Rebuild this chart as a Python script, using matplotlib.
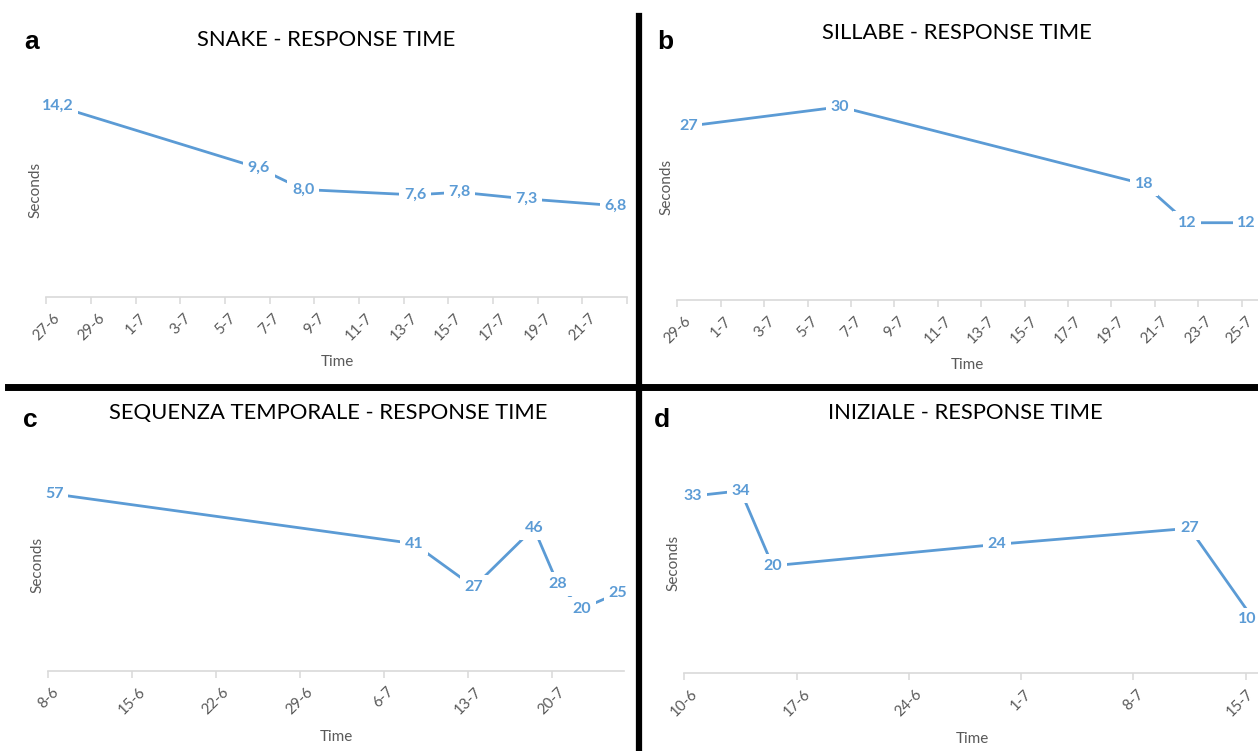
import matplotlib
matplotlib.use("Agg")
import matplotlib.pyplot as plt
import matplotlib.dates as mdates
from matplotlib.lines import Line2D
from matplotlib.transforms import offset_copy
from datetime import datetime

YEAR = 2017

# ---- data -------------------------------------------------------------
snake_dates = ["27-6", "6-7", "8-7", "13-7", "15-7", "18-7", "22-7"]
snake_values = [14.2, 9.6, 8.0, 7.6, 7.8, 7.3, 6.8]
snake_ticks = ["27-6", "29-6", "1-7", "3-7", "5-7", "7-7", "9-7", "11-7",
               "13-7", "15-7", "17-7", "19-7", "21-7", "23-7"]

sillabe_dates = ["29-6", "6-7", "20-7", "22-7", "25-7"]
sillabe_values = [27, 30, 18, 12, 12]
sillabe_ticks = ["29-6", "1-7", "3-7", "5-7", "7-7", "9-7", "11-7", "13-7",
                 "15-7", "17-7", "19-7", "21-7", "23-7", "25-7"]

sequenza_dates = ["8-6", "8-7", "13-7", "18-7", "20-7", "22-7", "25-7"]
sequenza_values = [57, 41, 27, 46, 28, 20, 25]
sequenza_ticks = ["8-6", "15-6", "22-6", "29-6", "6-7", "13-7", "20-7"]

iniziale_dates = ["10-6", "13-6", "15-6", "29-6", "11-7", "15-7"]
iniziale_values = [33, 34, 20, 24, 27, 10]
iniziale_ticks = ["10-6", "17-6", "24-6", "1-7", "8-7", "15-7"]


def to_num(s):
    d, m = s.split("-")
    return mdates.date2num(datetime(YEAR, int(m), int(d)))


BLUE = "#5B9BD5"
GREY = "#595959"
AXIS = "#D9D9D9"
FW, FH = 1258, 751

fig = plt.figure(figsize=(FW / 100, FH / 100), dpi=100)
fig.patch.set_facecolor("white")
edge_texts = []


def fig_box(x0, x1, ybot, ytop):
    return [x0 / FW, 1 - ybot / FH, (x1 - x0) / FW, (ybot - ytop) / FH]


def panel(box, dates, values, ticks, xstart, xend, ymax, fmt, labelled_ticks):
    ax = fig.add_axes(fig_box(*box))
    xs = [to_num(d) + 0.5 for d in dates]
    ax.plot(xs, values, color=BLUE, lw=2.0, solid_capstyle="butt", zorder=2,
            clip_on=False)
    for x, v in zip(xs, values):
        t = ax.text(x, v, fmt(v), ha="center", va="center", color=BLUE,
                    fontsize=11.5, fontweight="bold", family="Lato", zorder=3,
                    bbox=dict(boxstyle="square,pad=0.3", fc="white", ec="none"))
        edge_texts.append(t)
    ax.set_xlim(to_num(xstart), to_num(xend))
    ax.set_ylim(0, ymax)
    for s in ("left", "right", "top"):
        ax.spines[s].set_visible(False)
    ax.spines["bottom"].set_color(AXIS)
    ax.spines["bottom"].set_linewidth(1.2)
    ax.set_yticks([])
    ax.set_xticks([to_num(t) for t in ticks])
    labels = ax.set_xticklabels(
        [t if i < labelled_ticks else "" for i, t in enumerate(ticks)],
        rotation=45, ha="center", va="top", color=GREY,
        fontsize=10.8, family="Lato")
    edge_texts.extend(labels)
    ax.tick_params(axis="x", length=5, width=1.1, color=AXIS, pad=5)
    ax.patch.set_alpha(0)
    return ax


def comma(v):
    return f"{v:.1f}".replace(".", ",")


def integer(v):
    return f"{v:d}"


panel((46.5, 627, 297, 82), snake_dates, snake_values, snake_ticks,
      "27-6", "23-7", 16, comma, len(snake_ticks) - 1)
panel((677.4, 1263.3, 300, 74.6), sillabe_dates, sillabe_values, sillabe_ticks,
      "29-6", "26-7", 35, integer, len(sillabe_ticks))
panel((48.2, 623.7, 670.7, 453.7), sequenza_dates, sequenza_values, sequenza_ticks,
      "8-6", "26-7", 70, integer, len(sequenza_ticks))
panel((684.5, 1261.6, 673, 458.6), iniziale_dates, iniziale_values, iniziale_ticks,
      "10-6", "16-7", 40, integer, len(iniziale_ticks))


def ftext(x, y, s, **kw):
    fig.text(x / FW, 1 - y / FH, s, **kw)


# titles
title_kw = dict(ha="center", va="center", fontsize=15.8, family="Lato", color="black")
ftext(326, 40, "SNAKE - RESPONSE TIME", **title_kw)
ftext(957, 33, "SILLABE - RESPONSE TIME", **title_kw)
ftext(328, 413, "SEQUENZA TEMPORALE - RESPONSE TIME", **title_kw)
ftext(965, 413, "INIZIALE - RESPONSE TIME", **title_kw)

# panel letters
letter_kw = dict(ha="center", va="baseline", fontsize=19, fontweight="bold",
                 family="Liberation Sans", color="black")
ftext(32, 49, "a", **letter_kw)
ftext(665, 49, "b", **letter_kw)
ftext(30, 427, "c", **letter_kw)
ftext(662, 427, "d", **letter_kw)

# axis titles
lab_kw = dict(ha="center", va="center", fontsize=11, family="Lato", color=GREY)
ftext(35, 190, "Seconds", rotation=90, **lab_kw)
ftext(337, 362, "Time", **lab_kw)
ftext(666, 187, "Seconds", rotation=90, **lab_kw)
ftext(967, 365, "Time", **lab_kw)
ftext(37, 565, "Seconds", rotation=90, **lab_kw)
ftext(336, 737, "Time", **lab_kw)
ftext(673, 563, "Seconds", rotation=90, **lab_kw)
ftext(972, 739, "Time", **lab_kw)

# panel separators
fig.add_artist(Line2D([639 / FW, 639 / FW], [0, 1 - 16 / FH], color="black",
                      lw=4.5, transform=fig.transFigure))
fig.add_artist(Line2D([8 / FW, 1], [1 - 386.5 / FH, 1 - 386.5 / FH], color="black",
                      lw=5, transform=fig.transFigure))

# keep labels near the right edge inside the figure
fig.canvas.draw()
renderer = fig.canvas.get_renderer()
for t in edge_texts:
    if not t.get_text():
        continue
    bb = t.get_window_extent(renderer)
    overflow = bb.x1 - (FW - 2)
    if overflow > 0:
        t.set_transform(offset_copy(t.get_transform(), fig=fig,
                                    x=-overflow, y=0, units="dots"))

fig.savefig("out.png", dpi=100, facecolor="white")
